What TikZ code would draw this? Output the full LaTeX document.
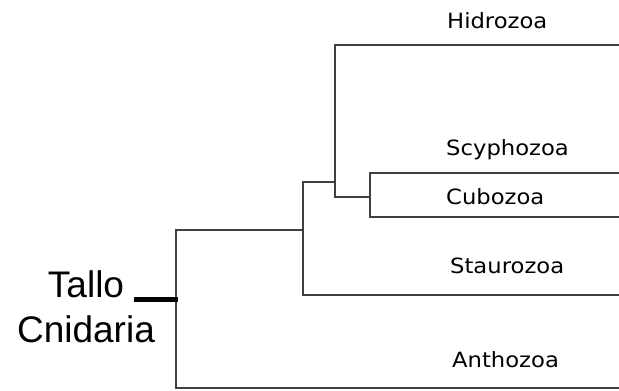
\documentclass[tikz,border=0pt]{standalone}
\usepackage{fontspec}
\setmainfont{Liberation Sans}
\newfontfamily\taxonfont[FakeStretch=1.08]{DejaVu Sans}
\usepackage{tikz}
\usetikzlibrary{positioning}

\begin{document}
\begin{tikzpicture}[x=1pt,y=-1pt,
        branch/.style = {draw=black!75, line width=1.8pt},
        stembar/.style = {draw=black, line width=5.5pt},
        taxon/.style = {
            anchor=base west,
            inner sep=0pt,
            font=\taxonfont\fontsize{21}{25}\selectfont
        }]
    \useasboundingbox (0,0) rectangle (619,391);

    % branch points
    \coordinate (stem) at (134,299.5);
    \coordinate (root) at (176,299.5);
    \coordinate (n1) at (303,230);
    \coordinate (n2) at (335,182);
    \coordinate (n3) at (370,197);
    % tips
    \coordinate (hid) at (619,45);
    \coordinate (scy) at (619,173);
    \coordinate (cub) at (619,217);
    \coordinate (sta) at (619,295);
    \coordinate (ant) at (619,388);

    \node[align=center, font=\fontsize{37}{45}\selectfont] (tallo) at (86,307) {Tallo\\Cnidaria};

    \node[taxon] (hidrozoa) at (447,28) {Hidrozoa};
    \node[taxon] (scyphozoa) at (446,155) {Scyphozoa};
    \node[taxon] (cubozoa) at (446,204) {Cubozoa};
    \node[taxon] (staurozoa) at (450,273) {Staurozoa};
    \node[taxon] (anthozoa) at (452,367) {Anthozoa};

    \draw[branch] (n1) -| (root) |- (ant);
    \draw[branch] (n2) -| (n1) |- (sta);
    \draw[branch] (hid) -| (n2) |- (n3);
    \draw[branch] (scy) -| (n3) |- (cub);
    \draw[stembar] (stem) -- ([xshift=2pt]root);
\end{tikzpicture}
\end{document}
